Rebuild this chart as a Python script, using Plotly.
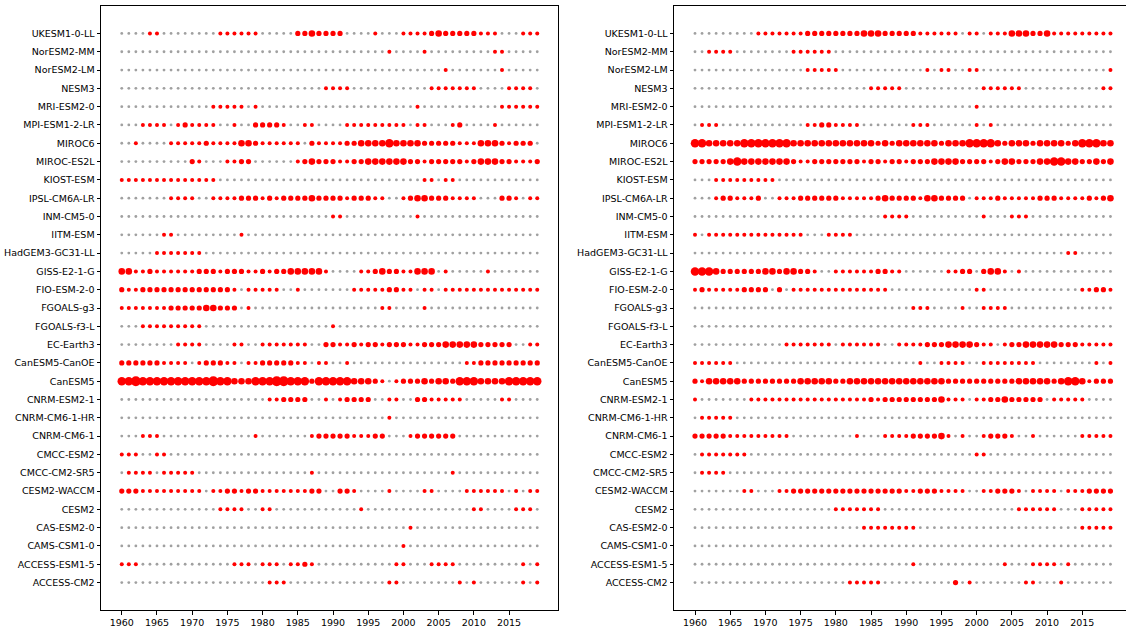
import plotly.graph_objects as go

models = ["UKESM1-0-LL", "NorESM2-MM", "NorESM2-LM", "NESM3", "MRI-ESM2-0", "MPI-ESM1-2-LR",
          "MIROC6", "MIROC-ES2L", "KIOST-ESM", "IPSL-CM6A-LR", "INM-CM5-0", "IITM-ESM",
          "HadGEM3-GC31-LL", "GISS-E2-1-G", "FIO-ESM-2-0", "FGOALS-g3", "FGOALS-f3-L", "EC-Earth3",
          "CanESM5-CanOE", "CanESM5", "CNRM-ESM2-1", "CNRM-CM6-1-HR", "CNRM-CM6-1", "CMCC-ESM2",
          "CMCC-CM2-SR5", "CESM2-WACCM", "CESM2", "CAS-ESM2-0", "CAMS-CSM1-0", "ACCESS-ESM1-5", "ACCESS-CM2"]
years = list(range(1960, 2020))
xtick_years = list(range(1960, 2020, 5))

# event magnitude per year (0 = no event), decades 1960s..2010s
left_levels = [
    "0000110000 0000111111 0000022322 2200001000 1111232222 2111000111",  # UKESM1-0-LL
    "0000000000 0000000000 0000000000 0000000010 0001000000 0001100000",  # NorESM2-MM
    "0000000000 0000000000 0000000000 0000000000 0000001000 0000100000",  # NorESM2-LM
    "0000000000 0000000000 0000000001 1110000000 0000111111 1000011110",  # NESM3
    "0000000000 0001111101 0000000000 0000000000 0010000000 0000111111",  # MRI-ESM2-0
    "0001111012 1111001002 2221001100 0011111111 1011000120 0001000000",  # MPI-ESM1-2-LR
    "0010000111 1121111332 1111110211 1122333343 3332222211 1333212220",  # MIROC6
    "0000000000 2100011220 0000012322 2112233333 3221222221 2333221112",  # MIROC-ES2L
    "1111111111 1111000000 0000000000 0000000000 0001101100 0000000000",  # KIOST-ESM
    "0000000111 1001111222 1212222322 2212221100 1233222111 1000221011",  # IPSL-CM6A-LR
    "0000000000 0000000000 0000000000 1100000000 0010000000 0000000000",  # INM-CM5-0
    "0000001100 0000000100 0000000000 0000000000 0000000000 0000000000",  # IITM-ESM
    "0000011111 1100000000 0000000000 0000000000 0000000000 0000000000",  # HadGEM3-GC31-LL
    "3311211111 1222122211 2122333331 0000112322 1133301000 0010000000",  # GISS-E2-1-G
    "2112222222 2222221011 1110010000 0001111122 1101101111 1111111111",  # FIO-ESM-2-0
    "1111111222 2233222010 0000000000 0000000110 0001000000 0000000000",  # FGOALS-g3
    "0001111111 1100000000 0000000000 1000000000 0000000000 0000000000",  # FGOALS-f3-L
    "0000000011 1100001100 1111111002 2112122122 2112223333 3222220011",  # EC-Earth3
    "2222221111 0122211011 2222211011 0010000000 0000000001 1222222222",  # CanESM5-CanOE
    "4454444444 4445443334 4455444244 4443332101 2223233244 4333344444",  # CanESM5
    "0000000000 0000000000 0112222001 0122220011 0022111110 0000110000",  # CNRM-ESM2-1
    "0000000000 0000000000 0000000000 0000000010 0000000000 0000000000",  # CNRM-CM6-1-HR
    "0001110000 0000000001 0000000122 2221112200 0122222200 0000000000",  # CNRM-CM6-1
    "1110011000 0000000000 0000000000 0000000000 0000000000 0000000000",  # CMCC-ESM2
    "0111101111 1000000000 0000000100 0000000000 0000000100 0000000000",  # CMCC-CM2-SR5
    "2221111111 1101122122 1111111220 0221000010 0001100001 1111101011",  # CESM2-WACCM
    "0000000000 0000111100 1100000000 0000100000 0000000000 1100001110",  # CESM2
    "0000000000 0000000000 0000000000 0000000000 0100000000 0000000000",  # CAS-ESM2-0
    "0000000000 0000000000 0000000000 0000000000 1000000000 0000000000",  # CAMS-CSM1-0
    "1110000000 0000001110 1110112100 0000000001 1000111100 0000000101",  # ACCESS-ESM1-5
    "0000000000 0000000000 0111000000 0000000011 0000000010 1000000101",  # ACCESS-CM2
]

right_levels = [
    "0000000001 1111112222 2222333222 2211111101 1011133322 3111111111",  # UKESM1-0-LL
    "0011110000 0000111111 0000000000 0000000000 0000000000 0000000000",  # NorESM2-MM
    "0000000000 0000001111 1000000000 0001011001 1000000000 0000000001",  # NorESM2-LM
    "0000000000 0000000000 0000011111 0000000000 0111111000 0000000011",  # NESM3
    "0000000000 0000000000 0000000000 0000000000 1000000000 0000000000",  # MRI-ESM2-0
    "0111000000 0000001122 1111000000 0111000000 1010000000 0000000000",  # MPI-ESM1-2-LR
    "4433333444 4444333333 3333332323 3333323334 4443233323 3332344433",  # MIROC6
    "2222234333 3333211222 2222122122 1222333322 2212332223 3443322323",  # MIROC-ES2L
    "0001111111 1100000000 0000000000 0000000000 0000000000 0000000000",  # KIOST-ESM
    "0001221112 0011122222 2111112322 2213322220 1112111112 2211112123",  # IPSL-CM6A-LR
    "0000000000 0000000000 0000000111 1000000000 0100011100 0000000000",  # INM-CM5-0
    "1011111111 1111110001 1110000000 0000000000 0000000000 0000000000",  # IITM-ESM
    "0000000000 0000000000 0000000000 0000000000 0000000000 0001100000",  # HadGEM3-GC31-LL
    "4443222222 3323322100 1111112211 0000001122 0233101000 0000000000",  # GISS-E2-1-G
    "1211111222 2020111111 1111111100 0000000000 1100000000 0000011221",  # FIO-ESM-2-0
    "0000000000 0000000000 0000000000 0111000010 0111100000 0000000000",  # FGOALS-g3
    "0000000000 0000000000 0000000000 0000000000 0000000000 0000000000",  # FGOALS-f3-L
    "0000000000 0001111111 0111111001 1112223333 2110122333 3322211111",  # EC-Earth3
    "1111110000 0000000000 0000000000 0010011110 0111111110 0000000101",  # CanESM5-CanOE
    "2133333222 2222233333 2233333333 3333332222 2222223333 3234431222",  # CanESM5
    "1000000011 1111111111 1111121222 2222231110 1122322222 0111110000",  # CNRM-ESM2-1
    "0111110000 0000000000 0000000000 0000000000 0000000000 0000000000",  # CNRM-CM6-1-HR
    "2222211111 1111000000 0001000111 1222231010 0122210010 0000011111",  # CNRM-CM6-1
    "0111111100 0000000000 0000000000 0000000000 1100000000 0000000000",  # CMCC-ESM2
    "0111100000 0000000000 0000000000 0000000000 0000000000 0000000000",  # CMCC-CM2-SR5
    "0000000110 0011222222 2222222222 1122211110 0112221011 1101112222",  # CESM2-WACCM
    "0000000000 0000000000 1111111000 0000000000 0000001111 1100011111",  # CESM2
    "0000000000 0000000000 0000111111 1100000000 0000000000 0000011111",  # CAS-ESM2-0
    "0000000000 0000000000 0000000000 0000000000 0000000000 0000000000",  # CAMS-CSM1-0
    "0000000000 0000000000 0000000000 0100000000 0000100011 1101000000",  # ACCESS-ESM1-5
    "0000000000 0000000000 0011111000 0000000201 0000000110 0010000000",  # ACCESS-CM2
]

size_map = {1: 4.0, 2: 5.2, 3: 6.6, 4: 8.5, 5: 10.0}
n = len(models)


def build(levels):
    gx, gy, rx, ry, rs = [], [], [], [], []
    for i, row in enumerate(levels):
        vals = row.replace(" ", "")
        yv = n - 1 - i
        for yr, ch in zip(years, vals):
            v = int(ch)
            if v == 0:
                gx.append(yr); gy.append(yv)
            else:
                rx.append(yr); ry.append(yv); rs.append(size_map[v])
    return gx, gy, rx, ry, rs


fig = go.Figure()
for k, levels in enumerate([left_levels, right_levels]):
    gx, gy, rx, ry, rs = build(levels)
    xa = "x" if k == 0 else "x2"
    ya = "y" if k == 0 else "y2"
    fig.add_trace(go.Scatter(x=gx, y=gy, mode="markers", xaxis=xa, yaxis=ya,
                             marker=dict(color="#a0a0a0", size=2.8, opacity=1, line=dict(width=0)),
                             showlegend=False, hoverinfo="skip"))
    fig.add_trace(go.Scatter(x=rx, y=ry, mode="markers", xaxis=xa, yaxis=ya,
                             marker=dict(color="#ff0000", size=rs, opacity=1, line=dict(width=0)),
                             showlegend=False))

W, H = 1126, 630
font = dict(family="DejaVu Sans", size=9.5, color="black")
common_x = dict(tickmode="array", tickvals=xtick_years, ticktext=[str(v) for v in xtick_years],
                ticks="outside", ticklen=3.5, tickcolor="black", showgrid=False, zeroline=False,
                showline=True, linecolor="black", linewidth=1, mirror=True, automargin=False,
                tickfont=font)
common_y = dict(tickmode="array", tickvals=list(range(n)), ticktext=models[::-1],
                ticks="outside", ticklen=3.5, tickcolor="black", showgrid=False, zeroline=False,
                showline=True, linecolor="black", linewidth=1, automargin=False,
                range=[-1.5, n + 0.5], tickfont=font)

px_per_year = 457 / 64.9
r_start = 1960 - (695 - 674) / px_per_year
r_end = r_start + (W - 674) / px_per_year

fig.update_layout(
    width=W, height=H,
    margin=dict(l=0, r=0, t=0, b=0),
    paper_bgcolor="white", plot_bgcolor="white",
    xaxis=dict(common_x, domain=[101 / W, 558 / W], range=[1957.05, 2021.95], anchor="y"),
    yaxis=dict(common_y, domain=[1 - 610 / H, 1 - 6 / H], mirror=True, anchor="x"),
    xaxis2=dict(common_x, domain=[674 / W, 1.0], range=[r_start, r_end], anchor="y2"),
    yaxis2=dict(common_y, domain=[1 - 610 / H, 1 - 6 / H], mirror=False, anchor="x2"),
)

fig.write_html("out.html", config={"displayModeBar": False},
               post_script="document.body.style.margin='0px';document.body.style.overflow='hidden';")
